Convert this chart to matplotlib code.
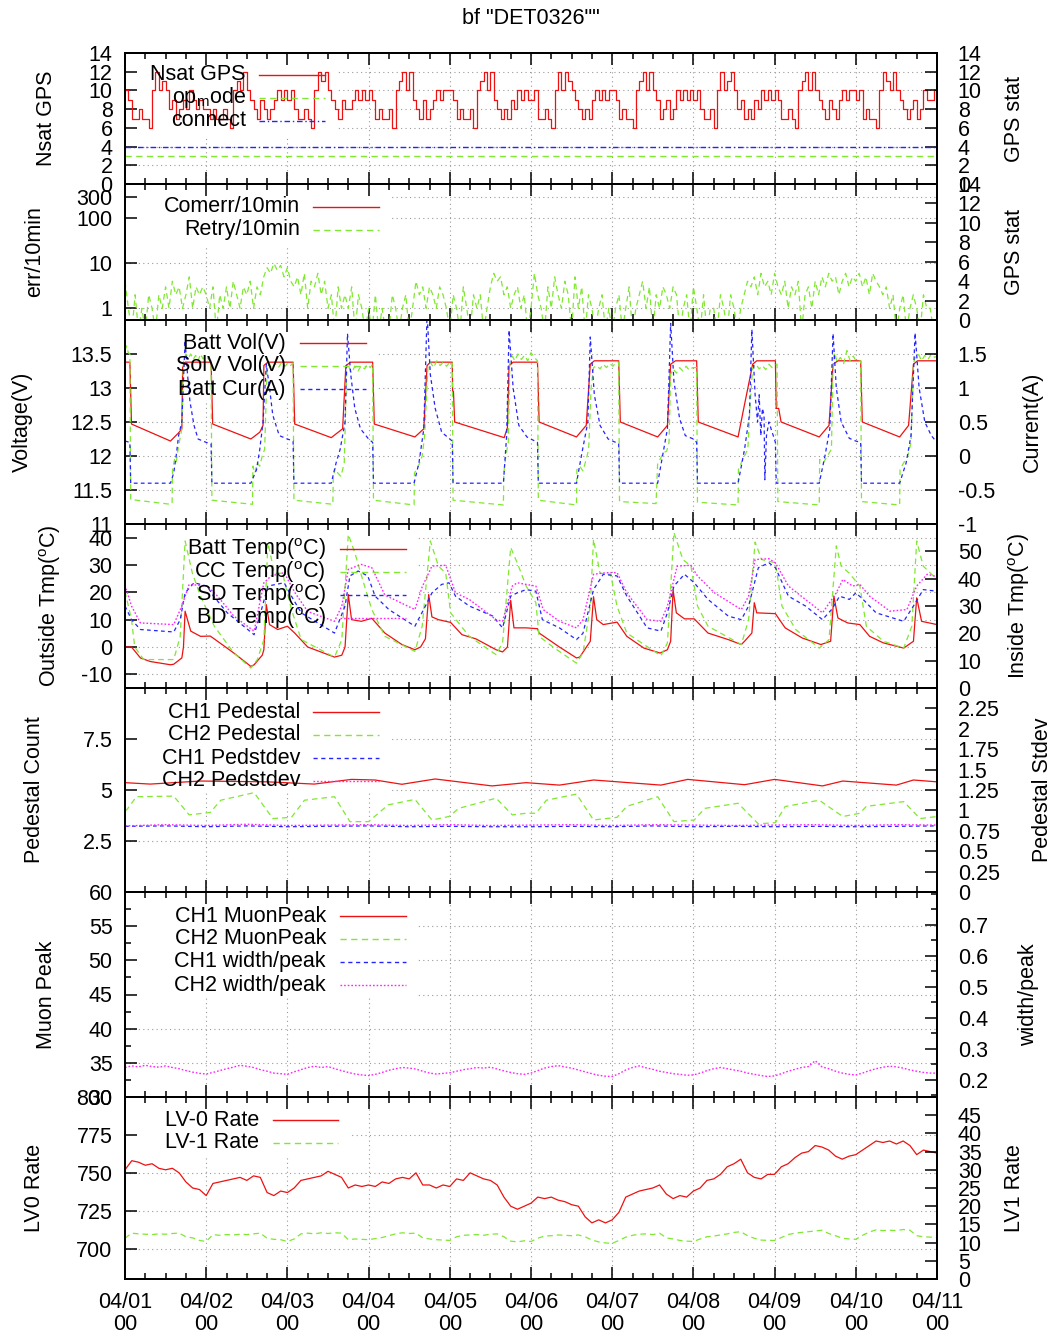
import numpy as np
import matplotlib.pyplot as plt
from matplotlib.lines import Line2D
from matplotlib.patches import Rectangle
from matplotlib.ticker import FixedLocator, NullLocator, FuncFormatter

plt.rcParams['font.family'] = ['Liberation Sans', 'DejaVu Sans']
plt.rcParams['mathtext.fontset'] = 'custom'
plt.rcParams['mathtext.rm'] = 'Liberation Sans'
plt.rcParams['mathtext.it'] = 'Liberation Sans:italic'

# ---------------- data (time in days since 04/01 00:00) ----------------
day_labels = ['04/%02d\n00' % d for d in range(1, 12)]

# GPS satellites, hourly
nsat_by_day = [
    [10, 9, 7, 7, 8, 7, 7, 6, 10, 12, 10, 11, 10, 8, 9, 7, 8, 9, 8, 10, 9, 8, 9, 8],
    [8, 7, 8, 7, 7, 8, 7, 6, 10, 11, 10, 12, 10, 9, 8, 7, 9, 8, 7, 8, 9, 10, 9, 10],
    [9, 10, 8, 7, 7, 8, 7, 6, 10, 12, 11, 12, 10, 9, 8, 7, 9, 8, 8, 9, 10, 9, 10, 9],
    [10, 9, 7, 8, 7, 7, 8, 6, 10, 11, 12, 10, 12, 9, 8, 7, 9, 7, 8, 9, 10, 9, 10, 10],
    [10, 9, 7, 8, 7, 7, 8, 6, 10, 11, 12, 10, 12, 9, 8, 7, 8, 7, 9, 8, 10, 9, 10, 9],
    [9, 10, 7, 7, 8, 7, 6, 10, 12, 10, 12, 11, 10, 9, 8, 7, 8, 7, 9, 10, 9, 10, 9, 10],
    [10, 9, 7, 8, 7, 7, 6, 10, 11, 12, 10, 12, 10, 9, 7, 8, 9, 7, 8, 10, 9, 10, 9, 10],
    [9, 10, 8, 7, 7, 8, 6, 10, 12, 10, 11, 12, 10, 8, 9, 7, 8, 7, 9, 8, 10, 9, 10, 9],
    [10, 9, 7, 7, 8, 7, 6, 10, 11, 12, 10, 12, 10, 9, 8, 7, 9, 8, 7, 9, 10, 9, 10, 10],
    [9, 10, 7, 8, 7, 7, 6, 10, 12, 11, 10, 12, 10, 9, 8, 7, 8, 9, 7, 8, 10, 9, 9, 10],
]
nsat_last = 9
opmode_t = [0, 10]
opmode_v = [3, 3]
connect_t = [0, 10]
connect_v = [4, 4]

# retries per 10 min, hourly (0.3 = nothing, falls below the axis)
retry_by_day = [
    [4, 1, 0.3, 2, 0.3, 1, 0.3, 2, 1, 0.3, 2, 1, 3, 1, 4, 2, 3, 1, 2, 5, 1, 3, 2, 3],
    [2, 1, 3, 0.3, 2, 1, 3, 1, 4, 2, 1, 3, 2, 4, 1, 3, 2, 5, 8, 6, 10, 7, 9, 5],
    [8, 4, 3, 5, 2, 6, 1, 4, 3, 6, 2, 4, 1, 2, 0.3, 3, 1, 2, 1, 3, 0.3, 2, 1, 0.3],
    [1, 0.3, 2, 0.3, 1, 0.3, 0.3, 2, 1, 0.3, 1, 2, 0.3, 1, 4, 2, 3, 1, 3, 2, 1, 3, 2, 1],
    [0.3, 2, 1, 0.3, 3, 1, 0.3, 2, 1, 2, 0.3, 1, 3, 6, 4, 5, 2, 3, 1, 2, 3, 1, 2, 0.3],
    [1, 6, 2, 1, 0.3, 3, 1, 5, 2, 1, 4, 2, 0.3, 5, 1, 3, 0.3, 2, 1, 0.3, 1, 2, 0.3, 1],
    [0.3, 1, 2, 0.3, 1, 3, 0.3, 1, 2, 4, 1, 3, 0.3, 2, 1, 3, 2, 1, 3, 2, 0.3, 1, 2, 0.3],
    [3, 1, 0.3, 2, 0.3, 1, 1, 0.3, 2, 1, 0.3, 2, 1, 0.3, 1, 2, 4, 3, 5, 2, 6, 3, 4, 2],
    [6, 3, 2, 4, 1, 3, 2, 4, 0.3, 2, 3, 1, 4, 2, 5, 3, 6, 4, 5, 2, 4, 6, 3, 5],
    [4, 6, 3, 5, 2, 6, 4, 3, 2, 3, 1, 2, 0.3, 1, 2, 0.3, 1, 2, 1, 0.3, 2, 1, 1, 0.3],
]
retry_last = 0.3
comerr_t = [0, 10]
comerr_v = [0, 0]

# battery voltage (V)
batt_vol_t = [0, 0.06, 0.08, 0.56, 0.66, 0.70, 0.71, 0.74, 1.06, 1.08, 1.55, 1.66, 1.70, 1.71, 1.76,
              2.07, 2.09, 2.54, 2.68, 2.72, 2.78, 3.05, 3.07, 3.57, 3.68, 3.72, 3.76,
              4.03, 4.035, 4.045, 4.06, 4.67, 4.71, 4.73, 4.78, 5.08, 5.10, 5.56, 5.68, 5.73, 5.78,
              6.08, 6.10, 6.56, 6.68, 6.72, 6.78, 7.04, 7.06, 7.55, 7.62, 7.73, 7.78,
              8.01, 8.02, 8.05, 8.08, 8.55, 8.67, 8.72, 8.78, 9.06, 9.08, 9.54, 9.65, 9.71, 9.76, 10]
batt_vol_v = [13.38, 13.38, 12.47, 12.22, 12.34, 12.40, 13.30, 13.38, 13.38, 12.47, 12.25, 12.35, 12.45, 13.33, 13.38,
              13.38, 12.47, 12.27, 12.40, 13.33, 13.38, 13.38, 12.47, 12.28, 12.40, 13.33, 13.38,
              13.38, 12.95, 12.95, 12.50, 12.27, 12.42, 13.33, 13.38, 13.38, 12.50, 12.28, 12.45, 13.35, 13.40,
              13.40, 12.50, 12.28, 12.45, 13.35, 13.40, 13.40, 12.50, 12.28, 12.70, 13.35, 13.40,
              13.40, 12.70, 12.70, 12.50, 12.28, 12.45, 13.35, 13.40, 13.40, 12.50, 12.28, 12.45, 13.35, 13.40, 13.40]

# solar panel voltage (V)
solv_t = [0, 0.02, 0.04, 0.06, 0.07, 0.56, 0.58, 0.585, 0.61, 0.63, 0.66, 0.70, 0.72, 0.75, 0.78, 0.81,
          0.84, 0.87, 0.90, 0.93, 0.96, 1.00, 1.03, 1.06, 1.07,
          1.57, 1.575, 1.60, 1.63, 1.66, 1.69, 1.72, 1.75, 1.78, 1.81, 1.85, 1.89, 1.93, 1.97, 2.01, 2.04, 2.07, 2.08,
          2.56, 2.565, 2.59, 2.62, 2.66, 2.70, 2.73, 2.76, 2.79, 2.83, 2.87, 2.91, 2.95, 2.99, 3.02, 3.05, 3.06,
          3.56, 3.565, 3.60, 3.63, 3.66, 3.69, 3.73, 3.76, 3.80, 3.84, 3.88, 3.92, 3.96, 4.00, 4.03, 4.04,
          4.66, 4.665, 4.69, 4.72, 4.74, 4.77, 4.80, 4.84, 4.88, 4.92, 4.96, 5.00, 5.04, 5.08, 5.09,
          5.56, 5.565, 5.60, 5.64, 5.68, 5.71, 5.74, 5.77, 5.81, 5.85, 5.89, 5.93, 5.97, 6.01, 6.05, 6.08, 6.09,
          6.54, 6.56, 6.59, 6.63, 6.67, 6.70, 6.72, 6.75, 6.79, 6.83, 6.87, 6.91, 6.95, 6.99, 7.04, 7.05,
          7.55, 7.555, 7.59, 7.63, 7.67, 7.70, 7.73, 7.77, 7.81, 7.85, 7.89, 7.93, 7.97, 8.03, 8.04,
          8.55, 8.555, 8.60, 8.65, 8.70, 8.72, 8.74, 8.77, 8.81, 8.85, 8.89, 8.93, 8.97, 9.01, 9.06, 9.07,
          9.54, 9.545, 9.59, 9.64, 9.68, 9.71, 9.73, 9.77, 9.81, 9.85, 9.89, 9.93, 9.97, 10]
solv_v = [13.55, 13.62, 13.52, 13.50, 11.36, 11.29, 11.30, 11.80, 11.95, 11.90, 12.15, 12.40, 13.40, 13.50, 13.44, 13.50,
          13.42, 13.48, 13.40, 13.50, 13.43, 13.47, 13.42, 13.40, 11.35,
          11.29, 11.85, 11.75, 11.90, 11.85, 12.00, 12.10, 13.30, 13.35, 13.28, 13.36, 13.30, 13.38, 13.32, 13.37, 13.33, 13.37, 11.35,
          11.29, 11.70, 11.82, 11.75, 11.70, 11.90, 13.25, 13.30, 13.22, 13.32, 13.25, 13.33, 13.28, 13.35, 13.30, 13.35, 11.35,
          11.28, 11.75, 11.82, 11.90, 12.00, 12.30, 13.30, 13.38, 13.30, 13.40, 13.33, 13.38, 13.32, 13.38, 13.38, 11.35,
          11.28, 11.75, 12.00, 12.20, 13.40, 13.47, 13.40, 13.50, 13.42, 13.48, 13.40, 13.52, 13.45, 13.40, 11.35,
          11.28, 11.80, 11.85, 11.78, 11.95, 12.10, 13.00, 13.30, 13.33, 13.28, 13.35, 13.30, 13.36, 13.32, 13.38, 13.38, 11.33,
          11.30, 11.90, 11.95, 12.05, 12.07, 12.20, 13.20, 13.28, 13.22, 13.30, 13.25, 13.32, 13.26, 13.30, 13.30, 11.32,
          11.28, 11.80, 11.90, 12.00, 12.10, 12.78, 13.30, 13.35, 13.28, 13.33, 13.27, 13.35, 13.30, 13.35, 11.33,
          11.28, 11.95, 11.90, 12.00, 12.10, 13.35, 13.52, 13.38, 13.45, 13.36, 13.55, 13.40, 13.47, 13.38, 13.40, 11.33,
          11.28, 11.80, 11.90, 12.00, 12.20, 13.35, 13.45, 13.50, 13.40, 13.48, 13.42, 13.50, 13.45, 13.47]

# battery current (A)
cur_t = [0, 0.06, 0.07, 0.56, 0.60, 0.63, 0.66, 0.70, 0.74, 0.77, 0.80, 0.85, 0.90, 1.00, 1.06, 1.07,
         1.55, 1.62, 1.66, 1.70, 1.74, 1.78, 1.82, 1.90, 2.00, 2.07, 2.08,
         2.54, 2.60, 2.65, 2.71, 2.74, 2.78, 2.83, 2.90, 3.00, 3.05, 3.06,
         3.56, 3.62, 3.68, 3.72, 3.76, 3.82, 3.90, 4.00, 4.03, 4.04,
         4.66, 4.70, 4.73, 4.78, 4.85, 4.95, 5.08, 5.09,
         5.56, 5.62, 5.70, 5.73, 5.78, 5.85, 5.95, 6.08, 6.09,
         6.56, 6.62, 6.68, 6.72, 6.76, 6.83, 6.90, 7.00, 7.04, 7.05,
         7.55, 7.63, 7.69, 7.72, 7.76, 7.79, 7.81, 7.83, 7.85, 7.87, 7.88, 7.90, 7.93, 7.97, 8.01, 8.02,
         8.55, 8.62, 8.68, 8.72, 8.76, 8.82, 8.92, 9.00, 9.06, 9.07,
         9.54, 9.62, 9.68, 9.73, 9.78, 9.85, 9.93, 10]
cur_v = [0.22, 0.20, -0.40, -0.40, -0.25, 0.00, 0.30, 0.50, 1.70, 1.20, 0.80, 0.45, 0.25, 0.20, 0.18, -0.40,
         -0.40, -0.20, 0.10, 0.50, 1.35, 1.00, 0.60, 0.30, 0.25, 0.22, -0.40,
         -0.40, -0.10, 0.10, 0.50, 1.80, 1.20, 0.70, 0.40, 0.25, 0.20, -0.40,
         -0.40, -0.10, 0.40, 2.10, 1.20, 0.70, 0.35, 0.25, 0.22, -0.40,
         -0.40, 0.30, 1.85, 1.00, 0.45, 0.28, 0.20, -0.40,
         -0.40, 0.00, 0.50, 1.75, 0.90, 0.45, 0.25, 0.18, -0.40,
         -0.40, 0.00, 0.40, 1.95, 1.10, 0.55, 0.30, 0.25, 0.20, -0.40,
         -0.40, 0.10, 0.60, 1.86, 0.90, 0.50, 0.90, 0.30, 0.70, 0.60, -0.35, 0.30, 0.50, 0.35, 0.20, -0.40,
         -0.40, 0.00, 0.40, 1.80, 1.00, 0.50, 0.26, 0.22, 0.20, -0.40,
         -0.40, -0.10, 0.30, 1.81, 1.00, 0.50, 0.30, 0.20]

# temperatures (deg C)
batt_temp_t = [0, 0.08, 0.19, 0.31, 0.56, 0.60, 0.70, 0.72, 0.74, 0.81, 0.93, 1.05, 1.14, 1.34, 1.55, 1.59,
               1.69, 1.71, 1.74, 1.78, 1.88, 2.00, 2.09, 2.25, 2.58, 2.67, 2.71, 2.75, 2.79, 2.91, 3.04, 3.20,
               3.41, 3.57, 3.64, 3.70, 3.74, 3.78, 3.86, 4.01, 4.15, 4.32, 4.57, 4.65, 4.71, 4.75, 4.79,
               4.94, 5.08, 5.10, 5.35, 5.56, 5.60, 5.73, 5.77, 5.81, 5.89, 6.06, 6.18, 6.39, 6.59, 6.68, 6.72,
               6.75, 6.79, 6.89, 7.01, 7.18, 7.43, 7.59, 7.63, 7.72, 7.75, 7.78, 8.01, 8.13, 8.34, 8.57, 8.69,
               8.73, 8.78, 8.90, 9.05, 9.17, 9.34, 9.59, 9.71, 9.75, 9.81, 10]
batt_temp_v = [0, 0, -4, -5.3, -6.5, -6.3, -4, 0, 13.1, 5.8, 3.9, 4, 2.1, -2.2, -7.1, -6.5,
               -3, -1, 15.5, 8.2, 6.4, 7.6, 5.1, 0, -3.7, -3, 0, 19.2, 10, 9.4, 10.5, 5.1,
               0.9, -1, 0, 3, 19.2, 11, 10, 9, 4.5, 3, -1, -1.8, 0, 17.1, 7,
               7, 6.7, 5.1, 0, -4, -3.7, 2.1, 18.4, 10, 8.2, 9.1, 3.9, -0.4, -2.2, -1, 2.1,
               20.8, 12.5, 10.3, 10.3, 5.1, 2.7, 0.9, 2.1, 5.1, 16.2, 12.5, 12.2, 7, 3.3, 0.9, 2.1,
               18.6, 10.6, 8.8, 8.2, 3.9, 1.5, -0.4, 2.1, 18, 9.4, 8.2]
cc_temp_t = [0, 0.08, 0.12, 0.23, 0.60, 0.68, 0.74, 0.83, 0.93, 1.10, 1.34, 1.55, 1.63, 1.71, 1.76, 1.84,
             1.94, 2.05, 2.17, 2.58, 2.67, 2.75, 2.83, 2.95, 3.04, 3.20, 3.57, 3.66, 3.76, 3.86, 3.95, 4.01,
             4.24, 4.57, 4.65, 4.75, 4.83,
             4.94, 5.06, 5.10, 5.27, 5.56, 5.64, 5.73, 5.77, 5.85, 5.98, 6.06, 6.18, 6.60, 6.68, 6.76, 6.87,
             6.97, 7.05, 7.18, 7.59, 7.68, 7.76, 7.84, 8.01, 8.09, 8.26, 8.55, 8.67, 8.76, 8.82, 8.92, 9.05,
             9.13, 9.34, 9.59, 9.69, 9.75, 9.83, 10]
cc_temp_v = [20.4, 10, 0, -4.6, -4.6, 3.9, 38.8, 27, 18.6, 7.6, -2.2, -7.7, -4.6, 2.7, 38.2, 27,
             27, 13.7, 2.7, -3.7, 2.7, 41.2, 34.5, 22.3, 13.7, 3.9, -1.6, 7.6, 38.8, 29.6, 27, 12.5,
             3.9, -2.8, 1.5, 36.4, 30.8,
             22.3, 16.2, 3.9, 0, -5.9, -2.2, 14.9, 39.4, 27, 26.6, 14.9, 5.1, -3.2, 1.5, 41.9, 32,
             29.6, 15, 7.6, 0.9, 10, 38.4, 32, 30.8, 15, 6.4, -0.4, 2.7, 37, 29.6, 27, 22.3,
             7.6, 2.1, -0.4, 7.6, 38.8, 29.6, 24.7]
sd_temp_t = [0, 0.08, 0.19, 0.60, 0.68, 0.74, 0.85, 1.01, 1.09, 1.26, 1.59, 1.67, 1.76, 1.96, 2.05, 2.17,
             2.58, 2.71, 2.77, 2.87, 2.99, 3.08, 3.25, 3.57, 3.70, 3.78, 3.90, 3.99, 4.07, 4.24, 4.53, 4.65,
             4.75, 4.83,
             4.94, 5.06, 5.14, 5.35, 5.56, 5.64, 5.77, 5.89, 6.06, 6.18, 6.43, 6.60, 6.68, 6.76, 6.89, 7.01,
             7.18, 7.43, 7.59, 7.68, 7.80, 7.93, 8.01, 8.17, 8.38, 8.59, 8.71, 8.80, 8.92, 9.00, 9.09, 9.25,
             9.59, 9.71, 9.83, 10]
sd_temp_v = [15, 10, 6.4, 5.5, 10, 19.8, 23.5, 22.3, 18.6, 12.5, 4.5, 12.5, 22.3, 23.5, 18.6, 12.5,
             5.1, 15, 26, 27.8, 26, 18.6, 13.7, 7.6, 15, 19.8, 22.9, 23.5, 18.6, 15, 11.3, 7,
             18.6, 19.8,
             21, 20.4, 10, 7, 2.7, 5, 21, 26.6, 26, 18.6, 7, 5.8, 12.5, 22.3, 26.6, 23.5,
             17.4, 11.3, 10, 15, 29, 30.8, 29, 18.6, 15, 10, 14, 18.6, 17.4, 19.8, 17.4, 12.5,
             9.4, 15, 21, 20.4]
bd_temp_t = [0, 0.08, 0.19, 0.60, 0.70, 0.79, 1.01, 1.14, 1.34, 1.59, 1.71, 1.80, 1.96, 2.09, 2.25, 2.58,
             2.67, 2.75, 2.91, 3.04, 3.20, 3.57, 3.66, 3.78, 3.95, 4.07, 4.24, 4.57, 4.65, 4.77, 4.83,
             4.94, 5.06, 5.15, 5.35, 5.56, 5.64, 5.77, 5.93, 6.06, 6.18, 6.43, 6.60, 6.68, 6.80, 6.97, 7.05,
             7.26, 7.59, 7.68, 7.76, 7.93, 8.01, 8.17, 8.38, 8.59, 8.76, 8.84, 8.96, 9.05, 9.17, 9.42, 9.63,
             9.75, 9.88, 10]
bd_temp_v = [22.6, 15, 8.8, 8.2, 15, 22.9, 22.3, 18.6, 11.3, 5.8, 23.5, 26, 27.2, 20, 13, 9.4,
             15, 28.4, 30.2, 29, 19, 13.7, 22, 29.6, 29.9, 19.8, 17.4, 10, 9.4, 22.3, 23.5,
             22.9, 22.3, 13.7, 9.4, 7, 10, 26.6, 27.2, 27.2, 19.8, 10, 9.4, 15, 29.6, 29.9, 26,
             19.8, 13.7, 18.6, 32, 32.3, 30.8, 22.3, 17.4, 12.5, 19.8, 24.7, 22.3, 22.9, 18.6, 13.1, 13.7,
             22.3, 26.6, 25.7]

# pedestals
ped1_t = [0, 0.31, 0.93, 1.76, 2.33, 2.79, 3.08, 3.41, 3.82, 4.52, 4.94, 5.35, 5.77, 6.60, 6.93,
          7.63, 8.00, 8.59, 8.84, 9.50, 9.71, 10]
ped1_v = [5.36, 5.29, 5.44, 5.40, 5.29, 5.52, 5.49, 5.28, 5.54, 5.20, 5.36, 5.24, 5.49, 5.24, 5.52,
          5.26, 5.52, 5.20, 5.44, 5.24, 5.49, 5.40]
ped2_t = [0, 0.02, 0.14, 0.60, 0.79, 1.05, 1.18, 1.59, 1.82, 2.05, 2.21, 2.58, 2.77, 3.00, 3.24, 3.57,
          3.78, 3.99, 4.11, 4.57, 4.77, 4.94, 5.06, 5.19, 5.56, 5.77, 6.06, 6.18, 6.56, 6.76, 7.01, 7.14,
          7.55, 7.80, 8.01, 8.13, 8.55, 8.84, 9.05, 9.13, 9.59, 9.79, 10]
ped2_v = [4.0, 4.02, 4.67, 4.70, 3.78, 3.90, 4.50, 4.87, 3.60, 3.66, 4.50, 4.67, 3.45, 3.45, 4.27, 4.54,
          3.53, 3.70, 4.10, 4.60, 3.78, 3.86, 3.86, 4.50, 4.80, 3.53, 3.66, 4.20, 4.67, 3.45, 3.53, 4.10,
          4.35, 3.34, 3.40, 4.19, 4.50, 3.70, 3.86, 4.20, 4.43, 3.60, 3.70]
pedstd_t = [0, 0.5, 1, 1.5, 2, 2.5, 3, 3.5, 4, 4.5, 5, 5.5, 6, 6.5, 7, 7.5, 8, 8.5, 9, 9.5, 10]
pedstd1_v = [0.805, 0.81, 0.80, 0.81, 0.80, 0.805, 0.81, 0.80, 0.805, 0.80, 0.80,
             0.805, 0.80, 0.81, 0.80, 0.805, 0.80, 0.805, 0.80, 0.805, 0.81]
pedstd2_v = [0.81, 0.825, 0.815, 0.83, 0.815, 0.82, 0.825, 0.815, 0.825, 0.815, 0.82,
             0.825, 0.815, 0.825, 0.82, 0.815, 0.82, 0.825, 0.815, 0.825, 0.82]

# CH2 width/peak, every 2 hours
wp2_by_day = [
    [0.240, 0.245, 0.242, 0.247, 0.243, 0.241, 0.245, 0.240, 0.236, 0.230, 0.225, 0.221],
    [0.219, 0.224, 0.230, 0.236, 0.241, 0.247, 0.244, 0.240, 0.233, 0.228, 0.222, 0.220],
    [0.218, 0.226, 0.233, 0.240, 0.244, 0.240, 0.243, 0.236, 0.230, 0.224, 0.219, 0.216],
    [0.214, 0.218, 0.224, 0.231, 0.236, 0.240, 0.238, 0.235, 0.228, 0.222, 0.219, 0.221],
    [0.223, 0.228, 0.233, 0.236, 0.240, 0.238, 0.241, 0.235, 0.229, 0.224, 0.220, 0.218],
    [0.222, 0.230, 0.238, 0.243, 0.246, 0.242, 0.238, 0.232, 0.226, 0.220, 0.215, 0.212],
    [0.211, 0.220, 0.232, 0.240, 0.245, 0.239, 0.234, 0.228, 0.224, 0.220, 0.218, 0.215],
    [0.216, 0.222, 0.230, 0.236, 0.240, 0.236, 0.232, 0.228, 0.222, 0.218, 0.214, 0.211],
    [0.213, 0.220, 0.228, 0.234, 0.240, 0.243, 0.262, 0.242, 0.236, 0.228, 0.222, 0.218],
    [0.216, 0.222, 0.230, 0.236, 0.241, 0.244, 0.242, 0.238, 0.232, 0.228, 0.224, 0.222],
]
wp2_last = 0.222

# trigger rates, every 2 hours
lv0_by_day = [
    [752, 758, 757, 755, 756, 753, 752, 753, 750, 744, 740, 739],
    [735, 743, 744, 745, 746, 747, 745, 748, 747, 737, 735, 738],
    [737, 740, 745, 746, 747, 748, 751, 749, 747, 740, 742, 741],
    [742, 741, 744, 743, 746, 747, 746, 750, 742, 742, 740, 742],
    [741, 746, 745, 750, 748, 746, 745, 742, 734, 728, 726, 728],
    [730, 734, 733, 734, 732, 731, 729, 728, 721, 717, 719, 717],
    [719, 724, 734, 736, 738, 739, 740, 742, 736, 733, 735, 734],
    [738, 740, 745, 746, 749, 754, 756, 759, 750, 747, 746, 749],
    [749, 754, 756, 760, 763, 764, 768, 767, 765, 761, 759, 761],
    [762, 765, 768, 771, 770, 771, 769, 771, 768, 762, 765, 764],
]
lv0_last = 763
lv1_by_day = [
    [11.2, 12.6, 12.4, 12.3, 12.2, 12.4, 12.3, 12.5, 12.6, 11.6, 11.3, 10.6],
    [10.3, 12.2, 12.0, 12.2, 12.1, 12.3, 12.2, 12.4, 12.6, 11.2, 10.9, 10.8],
    [10.3, 11.0, 12.4, 12.6, 12.4, 12.7, 12.5, 12.7, 12.6, 10.8, 11.0, 10.9],
    [10.8, 11.1, 11.4, 11.9, 12.4, 12.7, 12.5, 12.6, 11.3, 11.0, 10.8, 10.7],
    [10.6, 11.6, 12.0, 12.1, 12.2, 12.0, 12.3, 12.4, 11.6, 10.4, 10.2, 10.5],
    [10.3, 11.2, 11.8, 11.9, 12.1, 12.0, 11.9, 12.1, 11.6, 10.7, 10.2, 9.9],
    [9.8, 10.6, 11.5, 12.0, 12.3, 12.4, 12.2, 12.6, 11.3, 11.0, 10.6, 10.4],
    [10.3, 11.0, 11.6, 11.8, 12.1, 12.4, 12.8, 13.0, 11.9, 11.2, 10.7, 10.6],
    [10.6, 11.4, 12.2, 12.6, 12.8, 13.0, 13.2, 13.4, 12.5, 11.9, 11.2, 11.0],
    [10.9, 12.0, 12.9, 13.5, 13.3, 13.4, 13.3, 13.6, 13.4, 11.9, 11.6, 11.5],
]
lv1_last = 11.4

nsat = np.array(sum(nsat_by_day, []) + [nsat_last], dtype=float)
retry = np.array(sum(retry_by_day, []) + [retry_last], dtype=float)
wp2 = np.array(sum(wp2_by_day, []) + [wp2_last])
lv0 = np.array(sum(lv0_by_day, []) + [lv0_last], dtype=float)
lv1 = np.array(sum(lv1_by_day, []) + [lv1_last])
t_hour = np.arange(len(nsat)) / 24.0
t_2h = np.arange(len(lv0)) / 12.0

# ---------------- layout ----------------
W, H = 1063, 1338
L, R = 125, 937
EDGES = [53, 184, 320, 524, 688, 892, 1097, 1279]
FS = 15.5
RED = '#ee1111'
GREEN = '#80e830'
BLUE = '#2424ff'
MAG = '#ff22ff'
GRIDC = '#9a9a9a'
DASHED = (0, (4.5, 3.2))
SHORT = (0, (3.0, 2.6))
DOTTED = (0, (1.2, 1.4))
DASHDOT = (0, (4, 2, 1, 2))


def fx(px):
    return px / W


def fy(py):
    return 1 - py / H


def num(v, pos):
    return '%g' % round(v, 4)


fig = plt.figure(figsize=(W / 100, H / 100), dpi=100)


def panel(i, ylim, yticks, y2lim, y2ticks, grid, log=False):
    top, bot = EDGES[i], EDGES[i + 1]
    ax = fig.add_axes([fx(L), fy(bot), fx(R) - fx(L), fy(top) - fy(bot)])
    if log:
        ax.set_yscale('log')
    ax.set_xlim(0, 10)
    ax.set_ylim(*ylim)
    ax.yaxis.set_major_locator(FixedLocator(yticks))
    ax.yaxis.set_minor_locator(NullLocator())
    ax.yaxis.set_major_formatter(FuncFormatter(num))
    ax.xaxis.set_major_locator(FixedLocator(range(11)))
    ax.xaxis.set_minor_locator(FixedLocator(np.arange(0, 10.01, 0.25)))
    ax.tick_params(axis='x', which='major', direction='in', top=True, bottom=True,
                   length=8.5, width=1.1, labelbottom=False)
    ax.tick_params(axis='x', which='minor', direction='in', top=True, bottom=True,
                   length=4.5, width=1.1)
    ax.tick_params(axis='y', which='both', direction='in', left=True, right=False,
                   length=8.5, width=1.1, labelsize=FS, pad=9)
    ax2 = ax.twinx()
    ax2.set_ylim(*y2lim)
    ax2.yaxis.set_major_locator(FixedLocator(y2ticks))
    ax2.yaxis.set_major_formatter(FuncFormatter(num))
    ax2.tick_params(axis='y', which='both', direction='in', right=True,
                    length=8.5, width=1.1, labelsize=FS, pad=15)
    for a in (ax, ax2):
        for s in a.spines.values():
            s.set_linewidth(1.4)
    for d in range(1, 10):
        ax.axvline(d, color=GRIDC, lw=0.8, ls=(0, (1, 3)), zorder=0.3)
    for g in grid:
        ax.axhline(g, color=GRIDC, lw=0.8, ls=(0, (1, 3)), zorder=0.3)
    return ax, ax2


def key(ax, i, entries, text_r, s0, s1, y0, box_r, box_b):
    top = EDGES[i]
    ax.add_patch(Rectangle((fx(L), fy(box_b)), fx(box_r) - fx(L), fy(top) - fy(box_b),
                           transform=fig.transFigure, fc='white', ec='none', zorder=1))
    for k, (lab, col, ls) in enumerate(entries):
        y = y0 + 23 * k
        fig.text(fx(text_r), fy(y), lab, ha='right', va='center', fontsize=FS)
        fig.add_artist(Line2D([fx(s0), fx(s1)], [fy(y), fy(y)], color=col, ls=ls, lw=1.0,
                              transform=fig.transFigure))


def side_labels(i, left, lx, right, rx):
    yc = (EDGES[i] + EDGES[i + 1]) / 2
    fig.text(fx(lx), fy(yc), left, rotation=90, ha='center', va='center', fontsize=FS)
    fig.text(fx(rx), fy(yc), right, rotation=90, ha='center', va='center', fontsize=FS)


# 1: GPS
ax, ax2 = panel(0, (0, 14), range(0, 15, 2), (0, 14), range(0, 15, 2), range(2, 13, 2))
ax.step(t_hour, nsat, where='post', color=RED, lw=0.9, zorder=2)
ax2.plot(opmode_t, opmode_v, color=GREEN, ls=DASHED, lw=1.0)
ax2.plot(connect_t, connect_v, color=BLUE, ls=DASHDOT, lw=1.0)
key(ax, 0, [('Nsat GPS', RED, '-'), (r'op$_{\rm m}$ode', GREEN, DASHED), ('connect', BLUE, DASHDOT)],
    246, 259, 325, 75, 337, 136)
side_labels(0, 'Nsat GPS', 47, 'GPS stat', 1015)

# 2: communication errors
ax, ax2 = panel(1, (0.55, 580), [1, 10, 100, 300], (0, 14), range(0, 15, 2), [1, 10, 100, 300], log=True)
comerr = np.where(np.array(comerr_v) > 0, comerr_v, np.nan)
ax.plot(comerr_t, comerr, color=RED, lw=0.9, zorder=2)
ax.plot(t_hour, retry, color=GREEN, ls=DASHED, lw=0.9, zorder=2)
key(ax, 1, [('Comerr/10min', RED, '-'), ('Retry/10min', GREEN, DASHED)], 300, 313, 379, 207, 392, 245)
side_labels(1, 'err/10min', 35, 'GPS stat', 1015)

# 3: power
ax, ax2 = panel(2, (11, 14), np.arange(11, 13.6, 0.5), (-1, 2), np.arange(-1, 1.6, 0.5),
                np.arange(11.5, 13.6, 0.5))
ax.plot(batt_vol_t, batt_vol_v, color=RED, lw=0.9, zorder=2)
ax.plot(solv_t, solv_v, color=GREEN, ls=DASHED, lw=0.9, zorder=2)
ax2.plot(cur_t, cur_v, color=BLUE, ls=SHORT, lw=0.9)
key(ax, 2, [('Batt Vol(V)', RED, '-'), ('SolV Vol(V)', GREEN, DASHED), ('Batt Cur(A)', BLUE, SHORT)],
    286, 300, 366, 343, 378, 400)
side_labels(2, 'Voltage(V)', 22, 'Current(A)', 1032)

# 4: temperatures
ax, ax2 = panel(3, (-15, 45), range(-10, 41, 10), (0, 60), range(0, 51, 10), range(-10, 41, 10))
ax.plot(batt_temp_t, batt_temp_v, color=RED, lw=0.9, zorder=2)
ax.plot(cc_temp_t, cc_temp_v, color=GREEN, ls=DASHED, lw=0.9, zorder=2)
ax.plot(sd_temp_t, sd_temp_v, color=BLUE, ls=SHORT, lw=0.9, zorder=2)
ax.plot(bd_temp_t, bd_temp_v, color=MAG, ls=DOTTED, lw=1.0, zorder=2)
key(ax, 3, [(r'Batt Temp($^{\rm o}$C)', RED, '-'), (r'CC Temp($^{\rm o}$C)', GREEN, DASHED),
            (r'SD Temp($^{\rm o}$C)', BLUE, SHORT), (r'BD Temp($^{\rm o}$C)', MAG, DOTTED)],
    326, 340, 406, 549, 418, 632)
side_labels(3, r'Outside Tmp($^{\rm o}$C)', 50, r'Inside Tmp($^{\rm o}$C)', 1019)

# 5: pedestals
ax, ax2 = panel(4, (0, 10), [2.5, 5, 7.5], (0, 2.5), np.arange(0, 2.3, 0.25), [2.5, 5, 7.5])
ax.plot(ped1_t, ped1_v, color=RED, lw=0.9, zorder=2)
ax.plot(ped2_t, ped2_v, color=GREEN, ls=DASHED, lw=0.9, zorder=2)
ax2.plot(pedstd_t, pedstd1_v, color=BLUE, ls=SHORT, lw=0.9)
ax2.plot(pedstd_t, pedstd2_v, color=MAG, ls=DOTTED, lw=1.0)
key(ax, 4, [('CH1 Pedestal', RED, '-'), ('CH2 Pedestal', GREEN, DASHED),
            ('CH1 Pedstdev', BLUE, SHORT), ('CH2 Pedstdev', MAG, DOTTED)],
    300, 313, 379, 712, 392, 792)
side_labels(4, 'Pedestal Count', 35, 'Pedestal Stdev', 1042)

# 6: muon peak
ax, ax2 = panel(5, (30, 60), range(30, 61, 5), (0.145, 0.805), np.arange(0.2, 0.71, 0.1),
                range(35, 56, 5))
ax.yaxis.set_minor_locator(FixedLocator(np.arange(30, 60.1, 2.5)))
ax2.yaxis.set_minor_locator(FixedLocator(np.arange(0.15, 0.801, 0.05)))
ax.tick_params(axis='y', which='minor', length=4.5)
ax2.tick_params(axis='y', which='minor', length=4.5)
ax2.plot(t_2h, wp2, color=MAG, ls=DOTTED, lw=1.0)
key(ax, 5, [('CH1 MuonPeak', RED, '-'), ('CH2 MuonPeak', GREEN, DASHED),
            ('CH1 width/peak', BLUE, SHORT), ('CH2 width/peak', MAG, DOTTED)],
    326, 340, 406, 916, 418, 997)
side_labels(5, 'Muon Peak', 47, 'width/peak', 1029)

# 7: trigger rates
ax, ax2 = panel(6, (680, 800), range(700, 801, 25), (0, 50), range(0, 46, 5), range(700, 776, 25))
ax.plot(t_2h, lv0, color=RED, lw=0.9, zorder=2)
ax2.plot(t_2h, lv1, color=GREEN, ls=DASHED, lw=0.9)
key(ax, 6, [('LV-0 Rate', RED, '-'), ('LV-1 Rate', GREEN, DASHED)], 259, 273, 338, 1120, 351, 1157)
side_labels(6, 'LV0 Rate', 35, 'LV1 Rate', 1015)
ax.set_xticks(range(11))
ax.set_xticklabels(day_labels, fontsize=FS, linespacing=1.08)
ax.tick_params(axis='x', which='major', labelbottom=True, pad=9)

fig.text(fx(531), fy(18), 'bf "DET0326""', ha='center', va='center', fontsize=FS)

fig.savefig('out.png', dpi=100)
